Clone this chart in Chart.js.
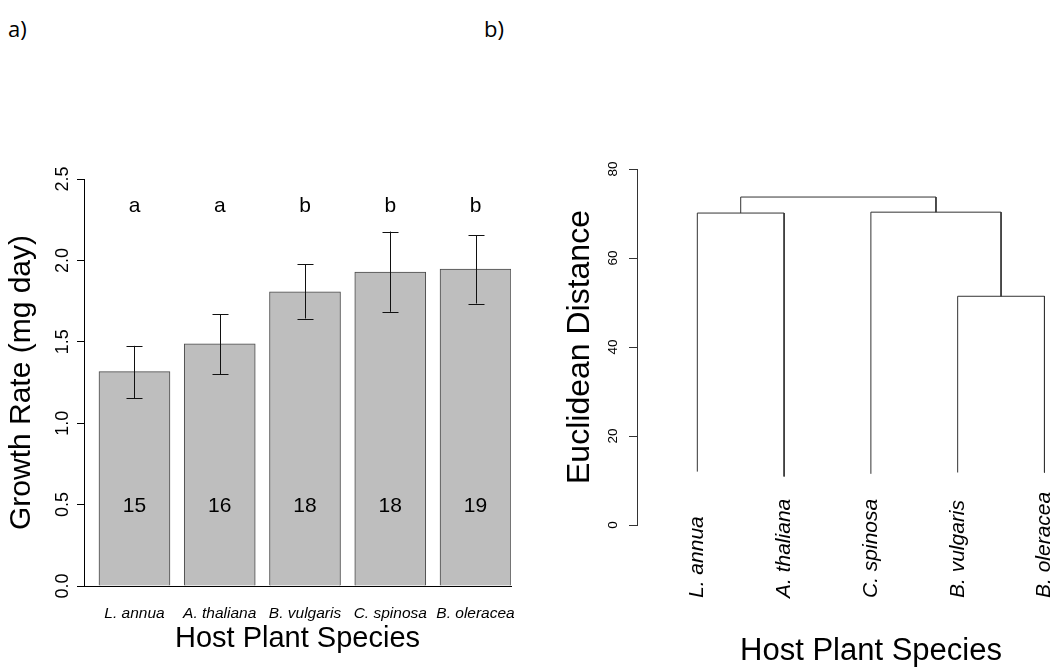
<!DOCTYPE html>
<html>
<head>
<meta charset="utf-8">
<script src="https://cdn.jsdelivr.net/npm/chart.js@4"></script>
<style>
  body { margin: 0; background: #fff; }
  .wrap { position: relative; width: 1054px; height: 668px; overflow: hidden; }
  #growthChart { position: absolute; left: 0; top: 0; }
  #treeChart { position: absolute; left: 540px; top: 0; }
  .panel { position: absolute; top: 13px; font-family: "Open Sans", sans-serif; font-size: 22px; color: #000; }
</style>
</head>
<body>
<div class="wrap">
  <div class="panel" style="left:8px">a)</div>
  <div class="panel" style="left:484px">b)</div>
  <canvas id="growthChart" width="530" height="668"></canvas>
  <canvas id="treeChart" width="514" height="668"></canvas>
</div>
<script>
  // ---------------- a) growth rate ----------------
  var species = ['L. annua', 'A. thaliana', 'B. vulgaris', 'C. spinosa', 'B. oleracea'];
  var growthMean = [1.317, 1.487, 1.807, 1.928, 1.946];
  var errUpper = [1.475, 1.668, 1.977, 2.177, 2.155];
  var errLower = [1.154, 1.301, 1.643, 1.684, 1.735];
  var groupLetters = ['a', 'a', 'b', 'b', 'b'];
  var sampleSize = [15, 16, 18, 18, 19];
  var letterLevel = 2.33;
  var countLevel = 0.49;

  // ---------------- b) dendrogram ----------------
  var leafNames = ['L. annua', 'A. thaliana', 'C. spinosa', 'B. vulgaris', 'B. oleracea'];
  var leafBottom = [12.0, 10.9, 11.5, 11.8, 11.8];
  // R hclust style merges: negative = leaf, positive = earlier merge
  var mergeLeft = [-1, -4, -3, 1];
  var mergeRight = [-2, -5, 2, 3];
  var mergeHeight = [70.1, 51.4, 70.3, 73.7];

  var sans = '"Liberation Sans", Arial, sans-serif';

  var barNotes = {
    id: 'barNotes',
    afterDatasetsDraw: function(chart) {
      var ctx = chart.ctx;
      var y = chart.scales.y;
      var bars = chart.getDatasetMeta(0).data;
      ctx.save();
      ctx.strokeStyle = '#111';
      ctx.lineWidth = 1;
      for (var i = 0; i < bars.length; i++) {
        var x = Math.round(bars[i].x) + 0.5;
        var top = y.getPixelForValue(errUpper[i]);
        var bot = y.getPixelForValue(errLower[i]);
        ctx.beginPath();
        ctx.moveTo(x, top); ctx.lineTo(x, bot);
        ctx.moveTo(x - 8, Math.round(top) + 0.5); ctx.lineTo(x + 8, Math.round(top) + 0.5);
        ctx.moveTo(x - 8, Math.round(bot) + 0.5); ctx.lineTo(x + 8, Math.round(bot) + 0.5);
        ctx.stroke();
      }
      ctx.fillStyle = '#000';
      ctx.textAlign = 'center';
      ctx.textBaseline = 'middle';
      ctx.font = '21px ' + sans;
      for (var i = 0; i < bars.length; i++) {
        ctx.fillText(groupLetters[i], bars[i].x, y.getPixelForValue(letterLevel));
        ctx.fillText(String(sampleSize[i]), bars[i].x, y.getPixelForValue(countLevel));
      }
      ctx.restore();
    }
  };

  new Chart(document.getElementById('growthChart'), {
    type: 'bar',
    data: {
      datasets: [{
        data: species.map(function(s, i) { return { x: i + 1, y: growthMean[i] }; }),
        backgroundColor: '#bebebe',
        borderColor: '#4a4a4a',
        borderWidth: 1,
        barThickness: 71
      }]
    },
    options: {
      responsive: false,
      animation: false,
      layout: { padding: { top: 179, right: 19, left: 0, bottom: 0 } },
      plugins: { legend: { display: false }, tooltip: { enabled: false } },
      scales: {
        x: {
          type: 'linear',
          min: 0.408,
          max: 5.416,
          offset: false,
          afterBuildTicks: function(scale) {
            scale.ticks = species.map(function(s, i) { return { value: i + 1 }; });
          },
          afterFit: function(scale) { scale.height = 82; },
          grid: { display: false },
          border: { display: true, color: '#000', width: 1 },
          ticks: {
            autoSkip: false,
            maxRotation: 0,
            padding: 10,
            color: '#000',
            font: { family: sans, size: 15.5, style: 'italic' },
            callback: function(v) { return species[v - 1]; }
          },
          title: {
            display: true,
            text: 'Host Plant Species',
            color: '#000',
            font: { family: sans, size: 29, lineHeight: 1.2 },
            padding: { top: 0, bottom: 12 }
          }
        },
        y: {
          min: 0,
          max: 2.5,
          afterFit: function(scale) { scale.width = 84; },
          grid: { display: true, drawOnChartArea: false, drawTicks: true, tickLength: 7, color: '#000' },
          border: { display: true, color: '#000', width: 1 },
          ticks: {
            stepSize: 0.5,
            minRotation: 90,
            maxRotation: 90,
            crossAlign: 'center',
            padding: 1,
            color: '#000',
            font: { family: sans, size: 18 },
            callback: function(v) { return v.toFixed(1); }
          },
          title: {
            display: true,
            text: 'Growth Rate (mg day)',
            color: '#000',
            font: { family: sans, size: 30, lineHeight: 1.2 },
            padding: { top: 4, bottom: 0 }
          }
        }
      }
    },
    plugins: [barNotes]
  });

  // build dendrogram segments from the merge table
  var nodeX = [];
  var nodeH = [];
  var treeSets = [];
  function childPos(c) {
    if (c < 0) return { x: -c, h: leafBottom[-c - 1] };
    return { x: nodeX[c - 1], h: nodeH[c - 1] };
  }
  for (var m = 0; m < mergeHeight.length; m++) {
    var a = childPos(mergeLeft[m]);
    var b = childPos(mergeRight[m]);
    var h = mergeHeight[m];
    nodeX.push((a.x + b.x) / 2);
    nodeH.push(h);
    treeSets.push({
      data: [{ x: a.x, y: a.h }, { x: a.x, y: h }, { x: b.x, y: h }, { x: b.x, y: b.h }],
      showLine: true,
      borderColor: '#333',
      borderWidth: 1,
      pointRadius: 0,
      tension: 0
    });
  }

  var leafText = {
    id: 'leafText',
    afterDraw: function(chart) {
      var ctx = chart.ctx;
      var xs = chart.scales.x;
      ctx.save();
      ctx.fillStyle = '#000';
      ctx.font = 'italic 21px ' + sans;
      ctx.textAlign = 'left';
      ctx.textBaseline = 'middle';
      for (var i = 0; i < leafNames.length; i++) {
        ctx.save();
        ctx.translate(xs.getPixelForValue(i + 1), 598);
        ctx.rotate(-Math.PI / 2);
        ctx.fillText(leafNames[i], 0, 0);
        ctx.restore();
      }
      ctx.font = '31px ' + sans;
      ctx.textAlign = 'center';
      ctx.fillText('Host Plant Species', 871 - 540, 651);
      ctx.restore();
    }
  };

  new Chart(document.getElementById('treeChart'), {
    type: 'scatter',
    data: { datasets: treeSets },
    options: {
      responsive: false,
      animation: false,
      layout: { padding: { top: 169, right: 0, left: 0, bottom: 0 } },
      plugins: { legend: { display: false }, tooltip: { enabled: false } },
      scales: {
        x: {
          type: 'linear',
          min: 0.305,
          max: 5.11,
          afterFit: function(scale) { scale.height = 143; },
          grid: { display: false },
          border: { display: false },
          ticks: { display: false }
        },
        y: {
          min: 0,
          max: 80,
          afterFit: function(scale) { scale.width = 97; },
          grid: { display: true, drawOnChartArea: false, drawTicks: true, tickLength: 8, color: '#333' },
          border: { display: true, color: '#333', width: 1 },
          ticks: {
            stepSize: 20,
            minRotation: 90,
            maxRotation: 90,
            crossAlign: 'center',
            padding: 8,
            color: '#000',
            font: { family: sans, size: 13.5 }
          },
          title: {
            display: true,
            text: 'Euclidean Distance',
            color: '#000',
            font: { family: sans, size: 32, lineHeight: 1 },
            padding: { top: 24, bottom: 0 }
          }
        }
      }
    },
    plugins: [leafText]
  });
</script>
</body>
</html>
